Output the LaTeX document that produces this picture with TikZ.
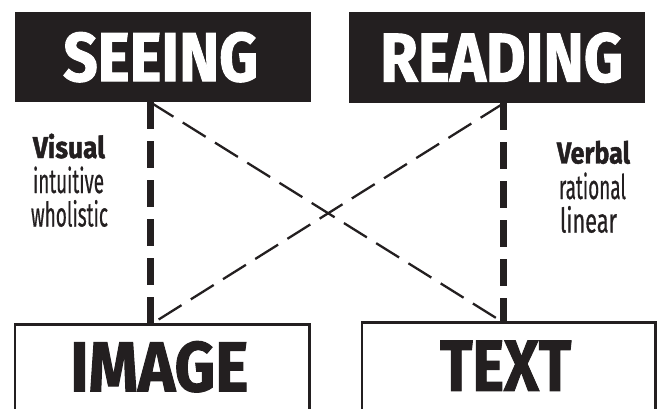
\documentclass[tikz,border=0pt]{standalone}
\usepackage{fontspec}
\usepackage{graphicx}
\setmainfont{Fira Sans}
\newfontfamily\headfamily{Fira Sans}[BoldFeatures={FakeBold=1.6}]
\newfontfamily\lblfamily{Fira Sans}[FakeBold=0.7]
\newcommand{\headfont}{\headfamily\bfseries}
\definecolor{ink}{HTML}{231F20}
\newcommand{\fitword}[3]{\resizebox{#1}{#2}{#3}}
\newcommand{\fitline}[2]{\resizebox{#1}{\height}{#2}}
\begin{document}
\begin{tikzpicture}[x=1pt,y=-1pt,
  darkbox/.style={fill=ink,text=white,inner sep=0pt,anchor=north west},
  openbox/.style={text=ink,inner sep=0pt,anchor=south west},
  boxline/.style={draw=ink,line width=2.5pt},
  thickdash/.style={draw=ink,line width=7.3pt,dash pattern=on 27pt off 12pt},
  thindash/.style={draw=ink,line width=2.3pt,dash pattern=on 27pt off 11pt},
  lbl/.style={text=ink,inner sep=0pt,anchor=base},
  boldlbl/.style={lbl,font=\fontsize{30}{30}\selectfont\headfont},
  plainlbl/.style={lbl,font=\fontsize{34}{34}\selectfont\lblfamily}]
\useasboundingbox (0,0) rectangle (658,409);
\clip (0,0) rectangle (658,409);
\node[darkbox,minimum width=296pt,minimum height=90pt] (seeing) at (15,12)
  {\kern-5pt\fitword{195pt}{49pt}{\headfont SEEING}};
\node[darkbox,minimum width=296pt,minimum height=91pt] (reading) at (349,12)
  {\kern9pt\fitword{243pt}{49pt}{\headfont READING}};
\node[openbox,minimum width=294pt,minimum height=84pt] (image) at (15,409)
  {\kern-6pt\fitword{178pt}{50pt}{\headfont IMAGE}};
\node[openbox,minimum width=293pt,minimum height=86pt] (text) at (362,409)
  {\kern-6pt\fitword{131pt}{50pt}{\headfont TEXT}};
\draw[boxline] (image.south west) |- (image.north east) -- (image.south east);
\draw[boxline] (text.south west) |- (text.north east) -- (text.south east);
\coordinate (va) at (150.5,200);
\coordinate (vb) at (503.5,200);
\draw[thickdash] (seeing.south -| va) -- (image.north -| va);
\draw[thickdash] (reading.south -| vb) -- (text.north -| vb);
\draw[thindash] (seeing.south -| va) -- (text.north -| vb);
\draw[thindash] (reading.south -| vb) -- (image.north -| va);
\node[boldlbl] (vis1) at (69,158) {\fitline{72pt}{Visual}};
\node[plainlbl] (vis2) at (68.5,193) {\fitline{71pt}{intuitive}};
\node[plainlbl] (vis3) at (69.5,226.5) {\fitline{77pt}{wholistic}};
\node[boldlbl] (ver1) at (593.5,163.5) {\fitline{73pt}{Verbal}};
\node[plainlbl] (ver2) at (592.5,199) {\fitline{67pt}{rational}};
\node[plainlbl] (ver3) at (588.5,232.5) {\fitline{57pt}{linear}};
\end{tikzpicture}
\end{document}
